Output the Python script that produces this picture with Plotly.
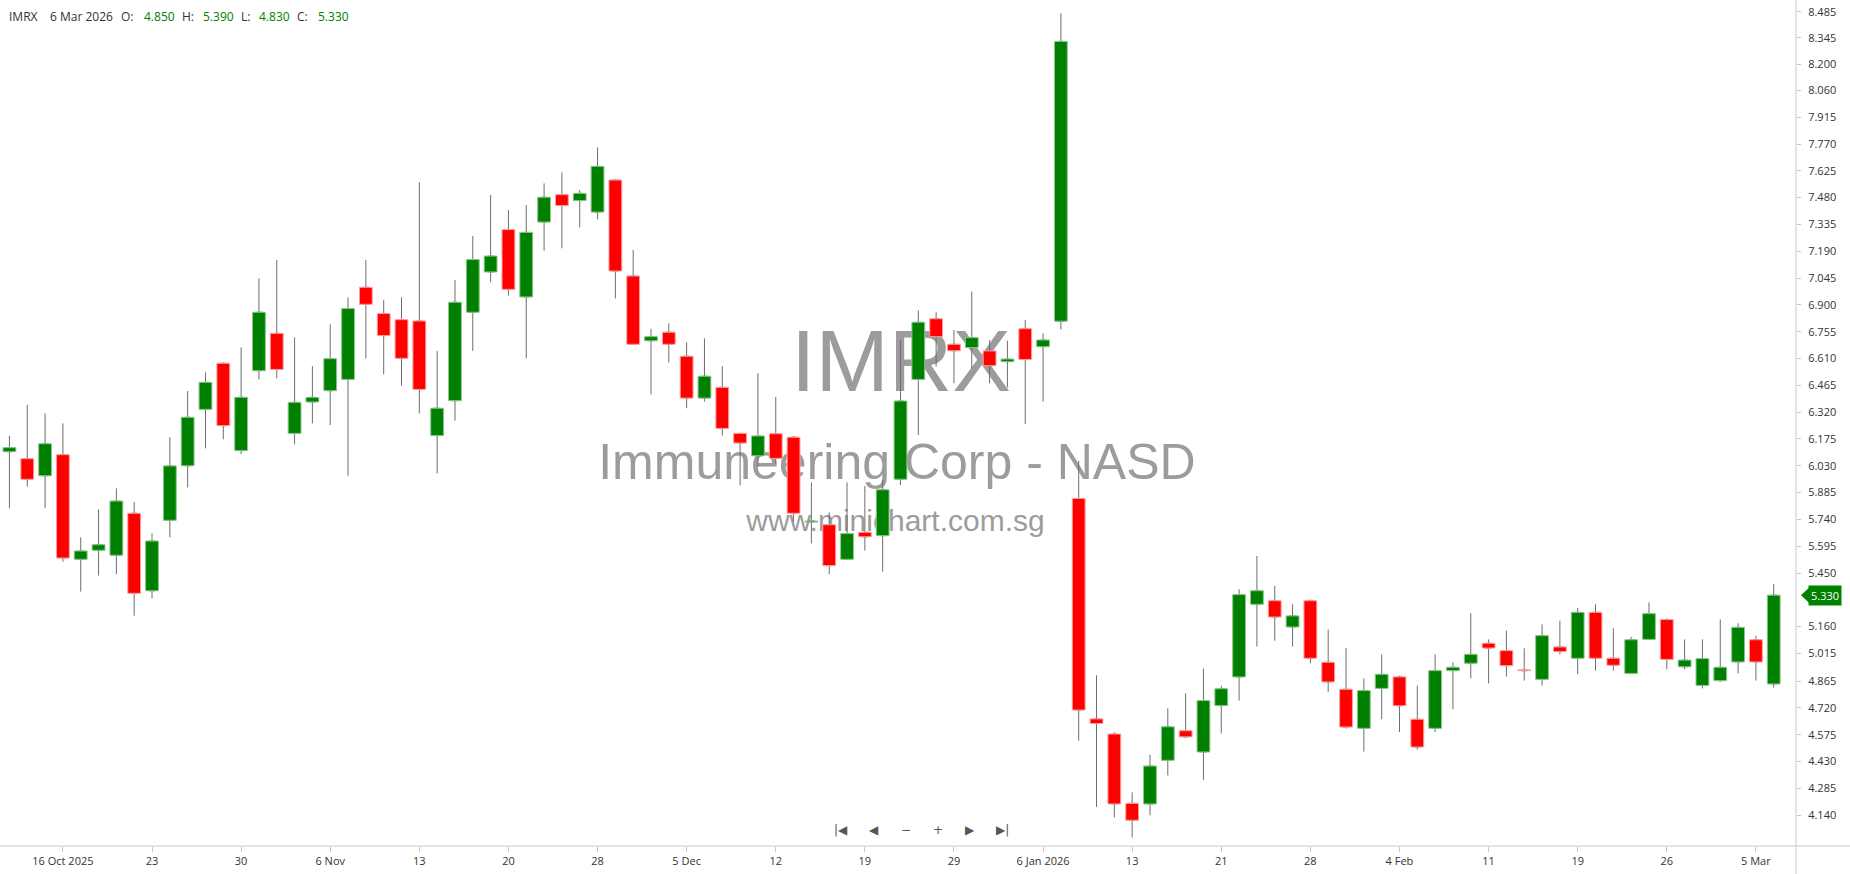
import plotly.graph_objects as go

# ---------------- data ----------------
dates = [
    "2025-10-13", "2025-10-14", "2025-10-15", "2025-10-16", "2025-10-17",
    "2025-10-20", "2025-10-21", "2025-10-22", "2025-10-23", "2025-10-24",
    "2025-10-27", "2025-10-28", "2025-10-29", "2025-10-30", "2025-10-31",
    "2025-11-03", "2025-11-04", "2025-11-05", "2025-11-06", "2025-11-07",
    "2025-11-10", "2025-11-11", "2025-11-12", "2025-11-13", "2025-11-14",
    "2025-11-17", "2025-11-18", "2025-11-19", "2025-11-20", "2025-11-21",
    "2025-11-24", "2025-11-25", "2025-11-26", "2025-11-28",
    "2025-12-01", "2025-12-02", "2025-12-03", "2025-12-04", "2025-12-05",
    "2025-12-08", "2025-12-09", "2025-12-10", "2025-12-11", "2025-12-12",
    "2025-12-15", "2025-12-16", "2025-12-17", "2025-12-18", "2025-12-19",
    "2025-12-22", "2025-12-23", "2025-12-24", "2025-12-26",
    "2025-12-29", "2025-12-30", "2025-12-31",
    "2026-01-02", "2026-01-05", "2026-01-06", "2026-01-07", "2026-01-08",
    "2026-01-09", "2026-01-12", "2026-01-13", "2026-01-14", "2026-01-15",
    "2026-01-16", "2026-01-20", "2026-01-21", "2026-01-22", "2026-01-23",
    "2026-01-26", "2026-01-27", "2026-01-28", "2026-01-29", "2026-01-30",
    "2026-02-02", "2026-02-03", "2026-02-04", "2026-02-05", "2026-02-06",
    "2026-02-09", "2026-02-10", "2026-02-11", "2026-02-12", "2026-02-13",
    "2026-02-17", "2026-02-18", "2026-02-19", "2026-02-20",
    "2026-02-23", "2026-02-24", "2026-02-25", "2026-02-26", "2026-02-27",
    "2026-03-02", "2026-03-03", "2026-03-04", "2026-03-05", "2026-03-06",
]

opens = [
    6.106, 6.068, 5.976, 6.090, 5.524, 5.573, 5.546, 5.773, 5.354, 5.735,
    6.030, 6.335, 6.584, 6.112, 6.544, 6.746, 6.205, 6.375, 6.436, 6.497,
    6.995, 6.853, 6.820, 6.813, 6.193, 6.382, 6.860, 7.078, 7.307, 6.943,
    7.348, 7.496, 7.464, 7.402, 7.575, 7.056, 6.706, 6.752, 6.622, 6.396,
    6.454, 6.205, 6.084, 6.203, 6.184, 5.726, 5.711, 5.524, 5.670, 5.652,
    5.957, 6.497, 6.825, 6.687, 6.669, 6.651, 6.593, 6.771, 6.674, 6.812,
    5.853, 4.661, 4.579, 4.204, 4.201, 4.437, 4.597, 4.482, 4.733, 4.888,
    5.281, 5.300, 5.158, 5.300, 4.967, 4.821, 4.610, 4.826, 4.888, 4.659,
    4.610, 4.922, 4.962, 5.070, 5.030, 4.925, 4.875, 5.050, 4.989, 5.237,
    4.989, 4.907, 5.091, 5.198, 4.943, 4.842, 4.868, 4.969, 5.089, 4.850,
]
highs = [
    6.191, 6.359, 6.313, 6.259, 5.643, 5.794, 5.908, 5.834, 5.665, 6.184,
    6.434, 6.535, 6.589, 6.670, 7.044, 7.143, 6.724, 6.569, 6.795, 6.941,
    7.143, 6.926, 6.941, 7.563, 6.651, 7.035, 7.273, 7.494, 7.413, 7.440,
    7.557, 7.617, 7.521, 7.752, 7.579, 7.197, 6.771, 6.800, 6.697, 6.719,
    6.569, 6.205, 6.530, 6.402, 6.191, 5.940, 5.778, 5.940, 5.920, 5.955,
    6.710, 6.870, 6.860, 6.764, 6.972, 6.710, 6.706, 6.818, 6.746, 8.476,
    6.056, 4.897, 4.588, 4.264, 4.467, 4.718, 4.800, 4.933, 4.840, 5.362,
    5.542, 5.380, 5.281, 5.306, 5.145, 5.044, 4.880, 5.010, 4.895, 4.841,
    5.010, 4.967, 5.232, 5.091, 5.138, 5.043, 5.172, 5.192, 5.261, 5.281,
    5.151, 5.104, 5.291, 5.205, 5.091, 5.091, 5.199, 5.178, 5.111, 5.390,
]
lows = [
    5.800, 5.917, 5.800, 5.511, 5.349, 5.436, 5.443, 5.219, 5.313, 5.643,
    5.913, 6.124, 6.173, 6.093, 6.497, 6.503, 6.146, 6.259, 6.250, 5.976,
    6.611, 6.524, 6.463, 6.313, 5.989, 6.274, 6.651, 7.022, 6.950, 6.611,
    7.193, 7.206, 7.319, 7.363, 6.935, 6.687, 6.416, 6.589, 6.341, 6.377,
    6.193, 5.924, 6.025, 6.040, 5.727, 5.610, 5.444, 5.524, 5.571, 5.457,
    5.926, 6.196, 6.566, 6.476, 6.557, 6.476, 6.454, 6.256, 6.377, 6.767,
    4.543, 4.185, 4.128, 4.019, 4.140, 4.355, 4.558, 4.331, 4.582, 4.760,
    5.052, 5.084, 5.052, 4.962, 4.807, 4.608, 4.484, 4.659, 4.590, 4.496,
    4.590, 4.713, 4.880, 4.853, 4.889, 4.868, 4.841, 5.010, 4.902, 4.922,
    4.922, 4.907, 5.091, 4.929, 4.929, 4.826, 4.861, 4.907, 4.868, 4.830,
]
closes = [
    6.128, 5.957, 6.149, 5.531, 5.569, 5.603, 5.839, 5.340, 5.623, 6.029,
    6.292, 6.481, 6.247, 6.400, 6.860, 6.551, 6.373, 6.400, 6.609, 6.880,
    6.903, 6.734, 6.611, 6.443, 6.341, 6.914, 7.145, 7.164, 6.984, 7.292,
    7.482, 7.437, 7.503, 7.649, 7.083, 6.687, 6.728, 6.687, 6.396, 6.514,
    6.232, 6.153, 6.191, 6.070, 5.773, 5.731, 5.490, 5.663, 5.646, 5.900,
    6.380, 6.806, 6.728, 6.652, 6.723, 6.571, 6.607, 6.605, 6.710, 8.325,
    4.709, 4.636, 4.201, 4.113, 4.406, 4.618, 4.564, 4.760, 4.824, 5.333,
    5.354, 5.212, 5.218, 4.989, 4.861, 4.617, 4.814, 4.902, 4.732, 4.509,
    4.922, 4.940, 5.010, 5.044, 4.949, 4.922, 5.111, 5.025, 5.237, 4.989,
    4.951, 5.089, 5.230, 4.983, 4.979, 4.987, 4.940, 5.156, 4.969, 5.330,
]

ytick_vals = [8.485, 8.345, 8.200, 8.060, 7.915, 7.770, 7.625, 7.480, 7.335,
              7.190, 7.045, 6.900, 6.755, 6.610, 6.465, 6.320, 6.175, 6.030,
              5.885, 5.740, 5.595, 5.450, 5.160, 5.015, 4.865, 4.720, 4.575,
              4.430, 4.285, 4.140]

xtick_dates = ["2025-10-16", "2025-10-23", "2025-10-30", "2025-11-06", "2025-11-13",
               "2025-11-20", "2025-11-28", "2025-12-05", "2025-12-12", "2025-12-19",
               "2025-12-29", "2026-01-06", "2026-01-13", "2026-01-21", "2026-01-28",
               "2026-02-04", "2026-02-11", "2026-02-19", "2026-02-26", "2026-03-05"]
xtick_text = ["16 Oct 2025", "23", "30", "6 Nov", "13", "20", "28", "5 Dec", "12",
              "19", "29", "6 Jan 2026", "13", "21", "28", "4 Feb", "11", "19", "26",
              "5 Mar"]

ticker = "IMRX"
company = "Immuneering Corp - NASD"
website = "www.minichart.com.sg"
last_date_label = "6 Mar 2026"

# ---------------- style ----------------
UP = "#008000"
DOWN = "#ff0000"
UP_EDGE = "#8cc78c"
DOWN_EDGE = "#ffa0a0"
WICK = "#6e6e6e"
AXIS = "#c8c8c8"
TXT = "#333333"
FONT = "Open Sans"

W, H = 1850, 874
ML, MR, MT, MB = 0, 54, 0, 28
PW, PH = W - ML - MR, H - MT - MB
XRANGE = [-0.53, 100.25]
ymin, ymax = 3.9736, 8.5488
px_to_val = (ymax - ymin) / PH

fig = go.Figure()

# watermark (base subplot, drawn beneath the candles)
fig.add_trace(go.Scatter(
    x=[0.5017, 0.4994, 0.4986], y=[0.564, 0.449, 0.381],
    mode="text", text=[ticker, company, website],
    textfont=dict(family="Liberation Sans, Arial", size=[88, 50, 30], color="#9c9c9c"),
    textposition="middle center", hoverinfo="skip", showlegend=False,
    xaxis="x", yaxis="y",
))

# wicks
fig.add_trace(go.Candlestick(
    x=dates, open=opens, high=highs, low=lows, close=closes,
    increasing=dict(line=dict(color=WICK, width=1), fillcolor=WICK),
    decreasing=dict(line=dict(color=WICK, width=1), fillcolor=WICK),
    whiskerwidth=0, hoverinfo="skip", showlegend=False,
    xaxis="x2", yaxis="y2",
))

# bodies (on a top overlay subplot so they cover the wick boxes)
body_base = [min(o, c) for o, c in zip(opens, closes)]
body_h = [max(abs(c - o), 0.004) for o, c in zip(opens, closes)]
body_col = [UP if c >= o else DOWN for o, c in zip(opens, closes)]
body_edge = [UP_EDGE if c >= o else DOWN_EDGE for o, c in zip(opens, closes)]
fig.add_trace(go.Bar(
    x=dates, y=body_h, base=body_base, width=0.72,
    marker=dict(color=body_col, line=dict(color=body_edge, width=1)),
    hoverinfo="skip", showlegend=False, xaxis="x3", yaxis="y3",
))

annotations = []
# header
hdr_items = [
    (ticker, 7, TXT), (last_date_label, 48, TXT),
    ("O:", 119, TXT), (f"{opens[-1]:.3f}", 142, UP),
    ("H:", 180, TXT), (f"{highs[-1]:.3f}", 201, UP),
    ("L:", 239, TXT), (f"{lows[-1]:.3f}", 257, UP),
    ("C:", 295, TXT), (f"{closes[-1]:.3f}", 316, UP),
]
for t, xp, col in hdr_items:
    annotations.append(dict(
        text=t, xref="paper", yref="paper", x=xp / PW, y=1 - 17 / PH,
        xanchor="left", yanchor="middle", showarrow=False,
        font=dict(family=FONT, size=12, color=col),
    ))

# navigation glyphs
for t, xp in [("|◀", 841), ("◀", 874), ("−", 906), ("+", 938), ("▶", 970), ("▶|", 1002)]:
    annotations.append(dict(
        text=t, xref="paper", yref="paper", x=xp / PW, y=1 - 830 / PH,
        xanchor="center", yanchor="middle", showarrow=False,
        font=dict(family="DejaVu Sans", size=12, color="#555555"),
    ))

# last price tag
annotations.append(dict(
    text=f"{closes[-1]:.3f}", xref="paper", yref="y2", x=1808 / PW, y=closes[-1],
    xanchor="left", yanchor="middle", showarrow=False, bgcolor=UP,
    borderpad=2, font=dict(family=FONT, size=11, color="white"),
))

half = 7.5 * px_to_val
shapes = [
    dict(type="line", xref="paper", yref="paper", x0=0, x1=W / PW, y0=0, y1=0,
         line=dict(color=AXIS, width=1)),
    dict(type="line", xref="paper", yref="paper", x0=1, x1=1, y0=-MB / PH, y1=1,
         line=dict(color=AXIS, width=1)),
    dict(type="path", xref="paper", yref="y2",
         path=f"M {1801 / PW},{closes[-1]} L {1809 / PW},{closes[-1] + half} "
              f"L {1809 / PW},{closes[-1] - half} Z",
         fillcolor=UP, line=dict(width=0)),
]

fig.update_layout(
    width=W, height=H,
    margin=dict(l=ML, r=MR, t=MT, b=MB),
    paper_bgcolor="white", plot_bgcolor="white",
    showlegend=False, hovermode=False,
    boxgap=0.5,
    xaxis=dict(domain=[0, 1], range=[0, 1], visible=False, fixedrange=True),
    yaxis=dict(domain=[0, 1], range=[0, 1], visible=False, fixedrange=True),
    xaxis2=dict(
        overlaying="x", anchor="y2", type="category",
        categoryorder="array", categoryarray=dates,
        range=XRANGE,
        tickmode="array", tickvals=xtick_dates, ticktext=xtick_text,
        ticks="outside", ticklen=5, tickcolor=AXIS, tickwidth=1,
        showgrid=False, showline=False, zeroline=False,
        tickfont=dict(family=FONT, size=11, color=TXT),
        rangeslider=dict(visible=False),
    ),
    yaxis2=dict(
        overlaying="y", anchor="x2", side="right",
        range=[ymin, ymax],
        tickmode="array", tickvals=ytick_vals,
        ticktext=[f"{v:.3f}" for v in ytick_vals],
        ticks="outside", ticklen=4, tickcolor=AXIS, tickwidth=1,
        showgrid=False, showline=False, zeroline=False,
        tickfont=dict(family=FONT, size=11, color=TXT),
        ticklabelstandoff=5,
    ),
    xaxis3=dict(
        overlaying="x", anchor="y3", type="category",
        categoryorder="array", categoryarray=dates,
        range=XRANGE, visible=False, showgrid=False, zeroline=False,
    ),
    yaxis3=dict(
        overlaying="y", anchor="x3", range=[ymin, ymax],
        visible=False, showgrid=False, zeroline=False,
    ),
    annotations=annotations,
    shapes=shapes,
)

fig.write_html(
    "out.html",
    config={"displayModeBar": False},
    post_script="document.body.style.margin='0';document.body.style.overflow='hidden';",
)
